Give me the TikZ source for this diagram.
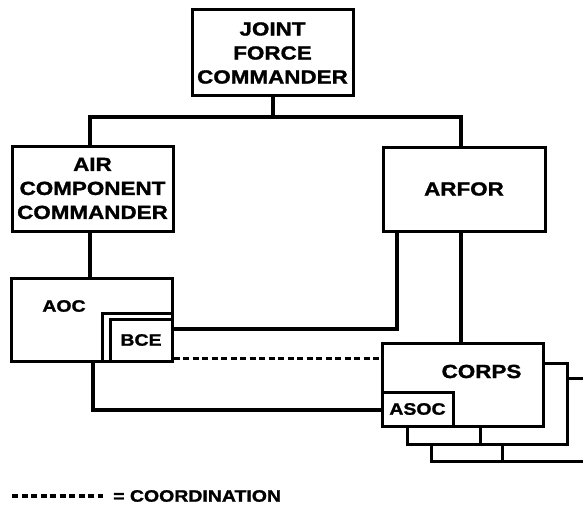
\documentclass[tikz,border=0pt]{standalone}
\usepackage{fontspec}
\newfontfamily\lblfont{Liberation Sans}[FakeStretch=1.18,FakeBold=1.4]

\begin{document}
\begin{tikzpicture}[x=1pt,y=-1pt,
   box/.style={draw,line width=3pt,fill=white,inner sep=0pt,align=center},
   big/.style={font=\lblfont\bfseries\fontsize{19}{24}\selectfont},
   sml/.style={font=\lblfont\bfseries\fontsize{16.5}{20}\selectfont},
   ln/.style={line width=4pt},
   coord/.style={line width=3.6pt,dash pattern=on 6pt off 3.5pt}]
  \useasboundingbox (0,0) rectangle (583,508);
  % command boxes
  \node[box,big,minimum width=161,minimum height=86] (jfc) at (272.5,53) {JOINT\\FORCE\\COMMANDER};
  \node[box,big,minimum width=161,minimum height=85] (acc) at (92.5,188.5) {AIR\\COMPONENT\\COMMANDER};
  \node[box,big,minimum width=162,minimum height=84] (arfor) at (464,189) {ARFOR};
  % AOC with BCE
  \node[box,minimum width=161,minimum height=83] (aoc) at (91.5,319.5) {};
  \node[sml] (aoclbl) at (64,306) {AOC};
  \draw[line width=3pt] (102,361) |- (172,313);
  \node[box,sml,minimum width=62,minimum height=42] (bce) at (141,340) {BCE};
  % stacked corps
  \node[box,minimum width=170,minimum height=83] (corps3) at (516,419.5) {};
  \node[box,minimum width=71,minimum height=34,anchor=south west] (sub3) at (corps3.south west) {};
  \node[box,minimum width=160,minimum height=81] (corps2) at (487,403.5) {};
  \node[box,minimum width=73,minimum height=34,anchor=south west] (sub2) at (corps2.south west) {};
  \node[box,minimum width=161,minimum height=83] (corps) at (462.5,384.5) {};
  \node[big] (corpslbl) at (481.5,371.5) {CORPS};
  \node[box,sml,minimum width=71,minimum height=34,anchor=south west] (asoc) at (corps.south west) {ASOC};
  % connectors
  \coordinate (bus) at (0,117);
  \draw[ln] (jfc.south) -- (jfc.south |- bus);
  \draw[ln] ([xshift=-2.5pt]acc.north) -- ([xshift=-2.5pt]acc.north |- bus) -- ([xshift=-3pt]arfor.north |- bus) -- ([xshift=-3pt]arfor.north);
  \draw[ln] ([xshift=-2.5pt]acc.south) -- ([xshift=-2.5pt]acc.south |- aoc.north);
  \draw[ln] ([yshift=11pt]bce.east) -| ([xshift=15pt]arfor.south west);
  \draw[ln] ([xshift=-3pt]arfor.south) -- ([xshift=-3pt]arfor.south |- corps.north);
  \draw[coord] ([yshift=4pt]bce.south east) -- ([yshift=4pt]bce.south east -| corps.west);
  \draw[ln] ([xshift=1.5pt]aoc.south) |- ([yshift=18pt]corps.south west);
  % legend
  \coordinate (leg) at (12,496);
  \draw[coord] (leg) -- ++(91,0) coordinate (legend end);
  \node[sml,anchor=west,inner sep=0pt] (legtxt) at ([xshift=10pt]legend end) {= COORDINATION};
\end{tikzpicture}
\end{document}
